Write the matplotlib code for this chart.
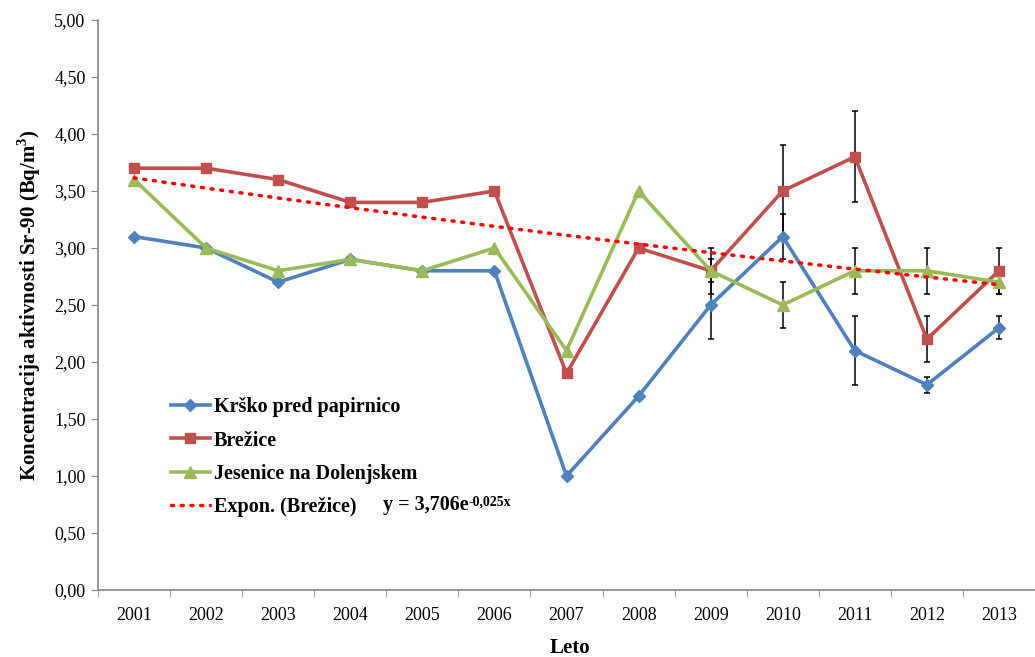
import numpy as np
import matplotlib.pyplot as plt
from matplotlib.ticker import FuncFormatter, FixedLocator

years = list(range(2001, 2014))
krsko = [3.1, 3.0, 2.7, 2.9, 2.8, 2.8, 1.0, 1.7, 2.5, 3.1, 2.1, 1.8, 2.3]
brezice = [3.7, 3.7, 3.6, 3.4, 3.4, 3.5, 1.9, 3.0, 2.8, 3.5, 3.8, 2.2, 2.8]
jesenice = [3.6, 3.0, 2.8, 2.9, 2.8, 3.0, 2.1, 3.5, 2.8, 2.5, 2.8, 2.8, 2.7]

# uncertainties (only 2009-2013 have them)
krsko_err = [0, 0, 0, 0, 0, 0, 0, 0, 0.3, 0.2, 0.3, 0.07, 0.1]
brezice_err = [0, 0, 0, 0, 0, 0, 0, 0, 0.1, 0.4, 0.4, 0.2, 0.2]
jesenice_err = [0, 0, 0, 0, 0, 0, 0, 0, 0.2, 0.2, 0.2, 0.2, 0.1]

# exponential trend for Brežice as shown on the chart
trend_a, trend_b = 3.706, -0.025

plt.rcParams['font.family'] = ['Liberation Serif', 'DejaVu Serif']
plt.rcParams['mathtext.fontset'] = 'custom'
plt.rcParams['mathtext.rm'] = 'Liberation Serif'
plt.rcParams['mathtext.bf'] = 'Liberation Serif:bold'

fig = plt.figure(figsize=(10.35, 6.57), dpi=100)
ax = fig.add_axes([0.0947, 0.102, 1 - 0.0947, 0.8676])

x = np.array(years)
blue, red, green = '#4F81BD', '#C0504D', '#9BBB59'

def draw_err(vals, errs):
    idx = [i for i, e in enumerate(errs) if e > 0]
    ax.errorbar(x[idx], np.array(vals)[idx], yerr=np.array(errs)[idx], fmt='none',
                ecolor='black', elinewidth=1.1, capsize=2.4, capthick=1.1, zorder=2)

draw_err(krsko, krsko_err)
draw_err(brezice, brezice_err)
draw_err(jesenice, jesenice_err)

ax.plot(x, krsko, color=blue, lw=2.6, marker='D', ms=6.5, label='Krško pred papirnico', zorder=3)
ax.plot(x, brezice, color=red, lw=2.6, marker='s', ms=7.5, label='Brežice', zorder=3)
ax.plot(x, jesenice, color=green, lw=2.6, marker='^', ms=8, label='Jesenice na Dolenjskem', zorder=3)

n = np.arange(1, len(years) + 1)
ax.plot(x, trend_a * np.exp(trend_b * n), color='#FF0000', lw=2.5, ls=(0, (0.6, 2.2)),
        dash_capstyle='round', label='Expon. (Brežice)', zorder=4)

ax.set_xlim(2000.5, 2000.5 + (1035 - 98) / 73.1)
ax.set_ylim(0, 5)
ax.yaxis.set_major_locator(FixedLocator(np.arange(0, 5.01, 0.5)))
ax.yaxis.set_major_formatter(FuncFormatter(lambda v, p: f'{v:.2f}'.replace('.', ',')))
ax.set_xticks(years)
ax.set_xticklabels([str(y) for y in years])
ax.set_xticks(np.arange(2000.5, 2014, 1), minor=True)
ax.tick_params(axis='x', which='major', length=0, pad=12, labelsize=13)
ax.tick_params(axis='x', which='minor', length=5, color='#888888', direction='out')
ax.tick_params(axis='y', length=5, color='#888888', direction='out', labelsize=13, pad=4)

for s in ['top', 'right']:
    ax.spines[s].set_visible(False)
for s in ['left', 'bottom']:
    ax.spines[s].set_color('#888888')
    ax.spines[s].set_linewidth(1.2)

fig.text(0.551, 1 - 648 / 657, 'Leto', fontsize=15, fontweight='bold', ha='center', va='center')
ax.set_ylabel('Koncentracija aktivnosti Sr-90 (Bq/m$^\\mathbf{3}$)', fontsize=15,
              fontweight='bold', labelpad=8)

leg = fig.legend(loc='upper left', bbox_to_anchor=(0.148, 0.423), frameon=False,
                 prop={'weight': 'bold', 'size': 14.5}, handlelength=1.9,
                 handletextpad=0.2, labelspacing=0.66)
eq = fig.text(0.37, 1 - 505 / 657, 'y = 3,706e', fontsize=14.5, fontweight='bold',
              va='center')
ax.annotate('-0,025x', xy=(1, 0.95), xycoords=eq, ha='left', va='top',
            fontsize=10, fontweight='bold')

fig.savefig('out.png', dpi=100)
